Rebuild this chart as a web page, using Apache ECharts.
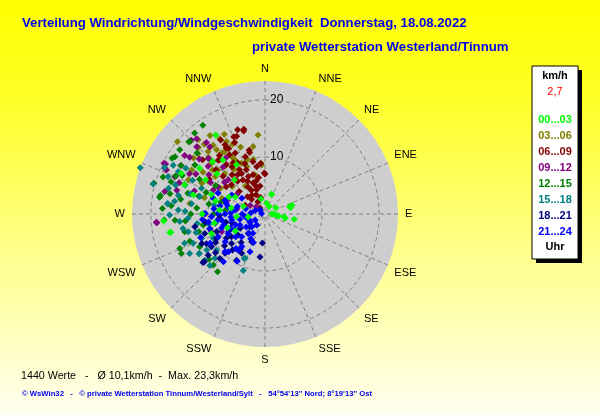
<!DOCTYPE html>
<html>
<head>
<meta charset="utf-8">
<script src="https://cdn.jsdelivr.net/npm/echarts@6/dist/echarts.min.js"></script>
<style>
  html, body { margin: 0; padding: 0; }
  #chart { width: 600px; height: 415px; }
</style>
</head>
<body>
<div id="chart"></div>
<script>
// Himmelsrichtungen (alle 22,5 Grad)
const dirNames = ['N', 'NNE', 'NE', 'ENE', 'E', 'ESE', 'SE', 'SSE', 'S', 'SSW', 'SW', 'WSW', 'W', 'WNW', 'NW', 'NNW']
const speedTicks = [10, 20]
const hourLabels = ['00...03', '03...06', '06...09', '09...12', '12...15', '15...18', '18...21', '21...24']
const hourColors = ['#00ff00', '#808000', '#800000', '#800080', '#008000', '#008080', '#000080', '#0000ff']

// [Geschwindigkeit km/h, Richtung Grad]
const h00_03 = [[4.5,73],[4.6,76],[5.2,100],[3.4,98],[2.4,98],[1.5,90],[3.6,19],[3.7,18],[1.9,9],[1.2,90],[2.0,95],[3.6,102],[5.0,72],[2.7,345],[1.5,30],[2.2,60],
  [17.0,259],[17.8,266],[16.3,328],[16.3,296],[16.8,259],[12,300],[10,290],[9,285],[8,275],[6,280],[11,310],[13,315],[7,295],[5,265],[9,260],[14,305],[12,322],[10,330],[8,318],[6,300],[4,290],[15,290],[11,270],[7,250],[13,285],[10,250],[3,260],[6,240]]
const h03_06 = [[13.9,355],[19.9,309.5],[15.4,329],[14.4,332],[8.6,356],[15.7,333],[16.2,319],[15.1,323],[14.1,323],[13.0,327],[11.6,330],[10.8,331],[9.8,335],[8.9,339],[9.8,348],[8.9,355.5],[7.1,345.6],[13.1,324.5],[14.8,317.7],[15.8,312],[15.9,308],[12.9,313.6],[11.3,313],[10.9,320],[13.1,304],[15.0,301],[14.7,294],[12.3,296],[10.9,307],[13.3,278],[9,300],[7.5,310],[6,325],[8,290],[11,285],[12.5,340],[17.5,318],[16.8,325],[12,350],[10,342],
  [14,315],[12,310],[10,315],[9.5,325],[13.5,335],[16.5,315],[11.5,300],[14,300]]
const h06_09 = [[15.5,342],[15.3,346],[11.5,346],[8.9,355],[7,0],[14.5,340],[8.4,337],[7.2,343],[5.1,342],[4.8,330],[3.7,335],[7.1,327],[8.4,325],[10.6,328],[12.1,329],[13.4,329.5],[12.4,320],[11.6,312],[9.9,312],[7.8,311],[6.0,311],[4.3,315],[11.5,302],[14.5,311],[14.6,338],[15.0,345.6],[13.6,337],[13.1,331],[11.9,334],[10.6,341],[11.1,346],[9.4,347],[8.4,350],[7.2,359],[5.8,339],[5.6,328],[4.5,341],[10.1,332],[10.1,325],[12.5,319],[15.1,329],[14,330],[8.2,330],[7.2,336],[8.0,318.6],[8.3,305],[1.4,320],[3.8,294],[6.5,350],[9.5,338],[2.5,330],[3,345],
  [6,345],[5,350],[4,325],[6.5,332],[7.5,320],[9,320],[9,330],[11,322],[13,322],[3.5,318]]
const h09_12 = [[19.8,296.7],[16.8,314.6],[18.3,315],[16.2,320.7],[16.5,307],[17.4,306],[18.9,294],[17.1,292.5],[13.9,314.5],[8.8,313],[9.5,300],[18.0,282.6],[19.5,296.7],[19.3,294.6],[17.8,317.7],[15.2,320.5],[19.0,265.4],[9.9,251.6],[8.2,247.8],[19.1,265.6],[12,305],[10,295],[14,300],[11,318],[7,290],[13,288],[6,305],[15,310],[5,280],[10.5,270],[16,285],[12,325],[3,300],[8,265],[2,310],
  [15,298],[17,300],[11,300],[9,308],[13,310],[16,290]]
const h12_15 = [[19.0,325],[18.8,319],[18.3,314],[18.7,307],[18.7,302.5],[18.6,280],[17.4,289],[20.2,285.5],[18.7,279],[18.0,273],[17.7,266.6],[15.8,266],[16.2,244.7],[16.1,248],[12.8,243.3],[13.1,219.4],[12.7,225.4],[14.4,257.5],[12.6,230.9],[19.0,290],[19.0,301],[18.4,313.5],[16,295],[14,285],[12,275],[15,305],[13,298],[11,290],[10,280],[9,270],[14,265],[12,255],[10,300],[8,285],[16,312],[13,315],[11,260],[7,275],[17,300],[15,280],
  [17,282],[16.5,275],[15,290],[13,270],[14,250],[17,293],[12,285]]
const h15_18 = [[23.3,290.3],[20.3,285],[17.1,276],[14.6,260],[14.9,242.4],[13.4,239],[13.3,232.5],[10.6,201],[8.5,204],[17.2,276],[16.7,269.4],[13.5,266.8],[13.8,257],[13.6,247.8],[13.5,239],[12.0,238.3],[10.6,233.3],[8.6,205],[11.7,228.5],[13.2,227],[11.9,249],[15.2,272.6],[19.4,295],[18.2,291],[18.2,298],[16.9,296],[14.9,290],[11.8,285],[15.5,282],[13,278],[11,270],[10,260],[16,300],[14,295],[12,292],[9,280],[10,245],[12,262],[17.5,285],[15,265],
  [16,278],[14,272],[12.5,255],[16.5,288],[13.5,285],[11,240],[15,250]]
const h18_21 = [[5.1,185],[7.6,186.6],[13.5,231.8],[12.3,234],[11.1,225.4],[9.8,225.5],[9.5,211.6],[8.0,210.7],[7.8,228.7],[11.0,238.5],[12.2,245],[11.1,252],[12.5,259.7],[8.9,259.5],[7.1,235.7],[4.5,221],[5.4,205.6],[13.8,232],[10,240],[9,250],[7,245],[6,255],[10.5,262],[8,268],[6.5,220],[9,232],[11.5,243],[5,240],[3.5,230],[7.5,215],
  [9.5,243],[8,238],[10,255],[7,258],[6,232],[11,232],[8.5,222]]
const h21_24 = [[5.3,277.6],[3.5,262],[2.0,239],[3.2,226],[6.0,242],[7.3,242.2],[5.7,225.7],[7.7,262],[8.2,271],[6.6,281],[9.4,267],[10.5,270.7],[7.1,201.7],[7.9,220],[9.1,244],[4.8,246],[5.9,259.8],[9.6,226.7],[7.9,216.6],[9.6,210.5],[4.4,220],[9.5,287],[7.4,289],[6.7,299.7],[9.0,294],[4.9,304],[7.0,215.5],[5.4,202],[11.1,221],[9.2,224],[10.9,242],[2.4,217],[0.6,280],[1.1,310],[1.8,290],[3,250],[4,270],[6,265],[8,252],[8.5,235],[10,255],[11,265],[6.5,232],[5,210],[3.5,285],[2.5,275],[8,280],[12,250],[4,235],[7,270],
  [5.5,250],[6.5,248],[7.5,255],[8.5,262],[4.5,258],[6,272],[5,285],[7,285],[9,276],[10,262],[3,240],[4,212]]

const groups = [h00_03, h03_06, h06_09, h09_12, h12_15, h15_18, h18_21, h21_24]
const maxSpeed = 23.3

const polarCenter = [265, 214]
const polarRadius = 133

let chart = echarts.init(document.getElementById('chart'), null, {renderer: 'canvas'})

const font = 'Liberation Sans, Arial, sans-serif'

// Gitterringe bei 10 und 20 km/h als Linienzug ueber die Polarachsen
const ringSteps = 64
const ringSeries = speedTicks.map(v => {
  const pts = []
  for (let k = 0; k <= ringSteps; k++) pts.push([v, k * 360 / ringSteps])
  return {
    type: 'line',
    coordinateSystem: 'polar',
    symbol: 'none',
    silent: true,
    z: 1,
    lineStyle: {color: '#808080', width: 1, type: [4, 3]},
    data: pts
  }
})

// grauer Kreis + Legende rechts als Kasten
let graphicItems = [
  {type: 'circle', z: -100, silent: true, shape: {cx: polarCenter[0], cy: polarCenter[1], r: polarRadius}, style: {fill: '#cecece'}},
  {type: 'rect', shape: {x: 536, y: 70, width: 46, height: 193}, style: {fill: '#000'}},
  {type: 'rect', shape: {x: 532, y: 66, width: 46, height: 193}, style: {fill: '#fff', stroke: '#000', lineWidth: 1}},
  {type: 'text', x: 555, y: 76, style: {text: 'km/h', fill: '#000', font: 'bold 11px ' + font, align: 'center', verticalAlign: 'middle'}},
  {type: 'text', x: 555, y: 92, style: {text: '2,7', fill: '#ff0000', font: '11px ' + font, align: 'center', verticalAlign: 'middle'}},
  {type: 'text', x: 555, y: 247, style: {text: 'Uhr', fill: '#000', font: 'bold 11px ' + font, align: 'center', verticalAlign: 'middle'}}
]
hourLabels.forEach((l, i) => {
  graphicItems.push({type: 'text', x: 555, y: 119.5 + i * 16,
    style: {text: l, fill: hourColors[i], font: 'bold 11px ' + font, align: 'center', verticalAlign: 'middle'}})
})

let option = {
  animation: false,
  backgroundColor: {
    type: 'linear', x: 0, y: 0, x2: 0, y2: 1,
    colorStops: [
      {offset: 0, color: '#ffff00'},
      {offset: 0.2, color: '#ffff20'},
      {offset: 1, color: '#fffff0'}
    ]
  },
  title: [
    {text: 'Verteilung Windrichtung/Windgeschwindigkeit  Donnerstag, 18.08.2022', left: 22, top: 17, padding: 0,
      textStyle: {color: '#0000ee', fontSize: 13.2, fontWeight: 'bold', fontFamily: font}},
    {text: 'private Wetterstation Westerland/Tinnum', left: 252, top: 41, padding: 0,
      textStyle: {color: '#0000ee', fontSize: 13.2, fontWeight: 'bold', fontFamily: font}},
    {text: '1440 Werte   -   Ø 10,1km/h  -  Max. 23,3km/h', left: 21, top: 371, padding: 0,
      textStyle: {color: '#000', fontSize: 10.7, fontWeight: 'normal', fontFamily: font}},
    {text: '© WsWin32   -   © private Wetterstation Tinnum/Westerland/Sylt   -   54°54\'13" Nord; 8°19\'13" Ost', left: 22, top: 390, padding: 0,
      textStyle: {color: '#0000ee', fontSize: 7.7, fontWeight: 'bold', fontFamily: font}}
  ],
  polar: {
    center: polarCenter,
    radius: polarRadius
  },
  angleAxis: {
    type: 'value',
    min: 0,
    max: 360,
    interval: 22.5,
    startAngle: 90,
    clockwise: true,
    axisLine: {show: false},
    axisTick: {show: false},
    axisLabel: {
      color: '#000',
      fontSize: 11,
      fontFamily: font,
      margin: 7,
      formatter: v => v >= 360 ? '' : dirNames[Math.round(v / 22.5)]
    },
    splitLine: {show: true, lineStyle: {color: '#808080', type: [4, 3], width: 1}}
  },
  radiusAxis: {
    type: 'value',
    min: 0,
    max: maxSpeed,
    interval: 10,
    axisLine: {show: false},
    axisTick: {show: false},
    axisLabel: {
      color: '#000',
      fontSize: 12,
      fontFamily: font,
      align: 'left',
      margin: -5,
      formatter: v => speedTicks.includes(v) ? String(v) : ''
    },
    splitLine: {show: false}
  },
  series: ringSeries.concat(groups.map((g, i) => ({
    name: hourLabels[i],
    type: 'scatter',
    coordinateSystem: 'polar',
    symbol: 'diamond',
    symbolSize: 7,
    itemStyle: {color: hourColors[i], opacity: 1},
    z: i === 0 ? 10 : 5 + i * 0.1,
    data: g
  }))),
  graphic: graphicItems
}

chart.setOption(option)
</script>
</body>
</html>
